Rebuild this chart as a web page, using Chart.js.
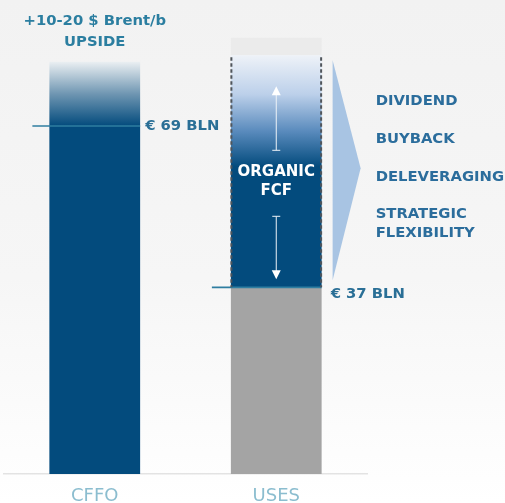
<!DOCTYPE html>
<html><head><meta charset="utf-8">
<script src="https://cdn.jsdelivr.net/npm/chart.js@4"></script>
<style>
html,body{margin:0;padding:0;width:505px;height:503px;overflow:hidden;background:linear-gradient(#f2f2f2 0%,#f6f6f6 55%,#ffffff 100%);}
#wrap{position:relative;width:505px;height:503px;}
</style>
</head><body><div id="wrap"><canvas id="c" width="505" height="503"></canvas></div>
<script>
const categories = ['CFFO', 'USES'];
const baseValues = [69, 37];        // CFFO at 60$/b, CAPEX
const upperValues = [12.7, 46];     // Brent upside, organic FCF
const capValues = [0, 3.5];
const baseLabels = ['€ 69 BLN', '€ 37 BLN'];
const upsideLabel = ['+10-20 $ Brent/b', 'UPSIDE'];
const fcfLabel = ['ORGANIC', 'FCF'];
const usesList = [['DIVIDEND'], ['BUYBACK'], ['DELEVERAGING'], ['STRATEGIC', 'FLEXIBILITY']];

const DARK = '#034b7d';
const GRAY = '#a4a4a4';
const FONT = '"DejaVu Sans", sans-serif';
const BOLD = 'bold 14.8px ' + FONT;

function upperColor(ctx) {
  const chart = ctx.chart;
  const area = chart.chartArea;
  if (!area) return DARK;
  const y = chart.scales.y;
  const i = ctx.dataIndex;
  const top = y.getPixelForValue(baseValues[i] + upperValues[i]);
  let g;
  if (i === 0) {
    const bot = y.getPixelForValue(baseValues[i]);
    g = chart.ctx.createLinearGradient(0, top, 0, bot);
    g.addColorStop(0, '#eaeff2');
    g.addColorStop(0.5, '#6f96b2');
    g.addColorStop(1, DARK);
  } else {
    const bot = y.getPixelForValue(baseValues[i] + upperValues[i] * 0.52);
    g = chart.ctx.createLinearGradient(0, top, 0, bot);
    g.addColorStop(0, '#eef2f8');
    g.addColorStop(0.35, '#bcd0ea');
    g.addColorStop(0.68, '#5a8bbd');
    g.addColorStop(1, DARK);
  }
  return g;
}

const annot = {
  id: 'annot',
  afterDatasetsDraw(chart) {
    const c = chart.ctx;
    const y = chart.scales.y;
    const b0 = chart.getDatasetMeta(0).data;
    const u = chart.getDatasetMeta(1).data;
    c.save();
    // value lines + labels
    for (let i = 0; i < 2; i++) {
      const el = b0[i];
      const left = el.x - el.width / 2, right = el.x + el.width / 2;
      const yv = y.getPixelForValue(baseValues[i]);
      c.strokeStyle = '#2f7ea1';
      c.lineWidth = 1.6;
      c.beginPath();
      c.moveTo(left - (i === 0 ? 17 : 19), yv);
      c.lineTo(right, yv);
      c.stroke();
      c.fillStyle = '#2a6f96';
      c.font = BOLD;
      c.textAlign = 'left';
      c.textBaseline = 'middle';
      c.fillText(baseLabels[i], right + (i === 0 ? 5 : 9), yv + (i === 0 ? 0 : 7));
    }
    // upside label
    const cf = u[0];
    c.fillStyle = '#2b7ea0';
    c.font = BOLD;
    c.textAlign = 'center';
    c.fillText(upsideLabel[0], cf.x, cf.y - 41);
    c.fillText(upsideLabel[1], cf.x, cf.y - 20);
    // FCF dashed borders
    const f = u[1];
    const fl = f.x - f.width / 2, fr = f.x + f.width / 2;
    c.strokeStyle = '#50555b';
    c.lineWidth = 2;
    c.setLineDash([3.5, 2.5]);
    c.beginPath();
    c.moveTo(fl + 0.5, f.y + 2); c.lineTo(fl + 0.5, f.base);
    c.moveTo(fr - 0.5, f.y + 2); c.lineTo(fr - 0.5, f.base);
    c.stroke();
    c.setLineDash([]);
    // arrows
    c.strokeStyle = '#eef3f8';
    c.fillStyle = '#ffffff';
    c.lineWidth = 1;
    const ax = f.x;
    const upTip = f.y + 31, upCap = f.y + 95;
    const dnCap = f.y + 161, dnTip = f.base - 8;
    c.beginPath();
    c.moveTo(ax, upCap); c.lineTo(ax, upTip + 8);
    c.moveTo(ax - 4, upCap); c.lineTo(ax + 4, upCap);
    c.moveTo(ax, dnCap); c.lineTo(ax, dnTip - 8);
    c.moveTo(ax - 4, dnCap); c.lineTo(ax + 4, dnCap);
    c.stroke();
    c.beginPath();
    c.moveTo(ax, upTip); c.lineTo(ax - 4.5, upTip + 9); c.lineTo(ax + 4.5, upTip + 9); c.closePath();
    c.moveTo(ax, dnTip); c.lineTo(ax - 4.5, dnTip - 9); c.lineTo(ax + 4.5, dnTip - 9); c.closePath();
    c.fill();
    // ORGANIC FCF
    c.fillStyle = '#ffffff';
    c.font = 'bold 15px ' + FONT;
    c.textAlign = 'center';
    c.fillText(fcfLabel[0], f.x, f.y + 117);
    c.fillText(fcfLabel[1], f.x, f.y + 136);
    // triangle
    const tTop = f.y + 5, tBot = f.base - 7;
    c.fillStyle = '#a8c4e3';
    c.beginPath();
    c.moveTo(fr + 11, tTop);
    c.lineTo(fr + 39, (tTop + tBot) / 2 - 2);
    c.lineTo(fr + 11, tBot);
    c.closePath();
    c.fill();
    // uses list
    c.fillStyle = '#2b6d9c';
    c.font = BOLD;
    c.textAlign = 'left';
    let ty = f.y + 46;
    usesList.forEach(lines => {
      lines.forEach((t, k) => c.fillText(t, fr + 54, ty + k * 19));
      ty += 37.7;
    });
    c.restore();
  }
};

new Chart(document.getElementById('c'), {
  type: 'bar',
  data: {
    labels: categories,
    datasets: [
      { data: baseValues, backgroundColor: [DARK, GRAY], borderWidth: 0 },
      { data: upperValues, backgroundColor: upperColor, borderWidth: 0 },
      { data: capValues, backgroundColor: '#ebebeb', borderWidth: 0 }
    ]
  },
  options: {
    responsive: false,
    animation: false,
    events: [],
    layout: { padding: { top: 20, left: 4, right: 138, bottom: 0 } },
    datasets: { bar: { barPercentage: 0.5, categoryPercentage: 1 } },
    plugins: { legend: { display: false }, tooltip: { enabled: false } },
    scales: {
      x: {
        stacked: true,
        grid: { display: false, drawTicks: false, tickLength: 0 },
        border: { display: true, color: '#e3e3e3', width: 1.5 },
        ticks: { color: '#8bbdcf', font: { family: FONT, size: 18 }, padding: 12 },
        afterFit(scale) { scale.height = 29; }
      },
      y: {
        stacked: true,
        display: false,
        min: 0, max: 90
      }
    }
  },
  plugins: [annot]
});
</script>
</body></html>
